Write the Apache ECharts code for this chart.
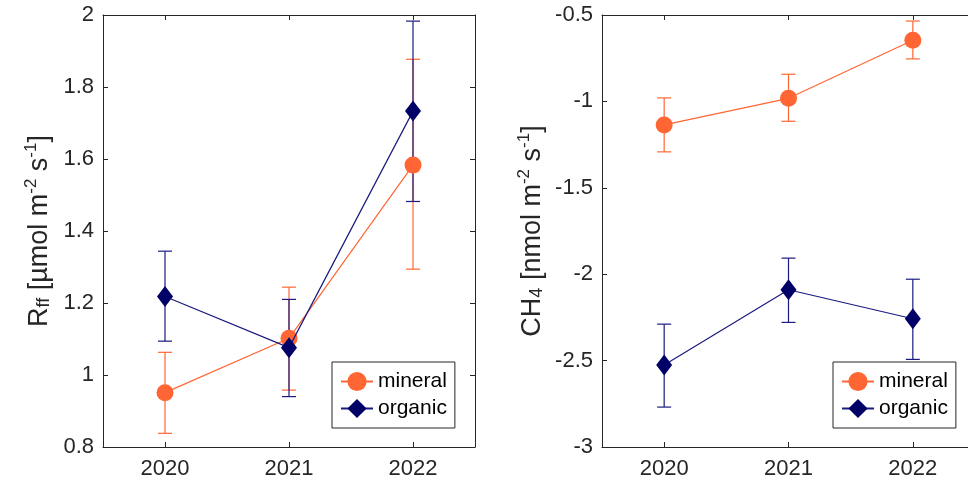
<!DOCTYPE html>
<html>
<head>
<meta charset="utf-8">
<script src="https://cdn.jsdelivr.net/npm/echarts@6/dist/echarts.min.js"></script>
<style>
html,body{margin:0;padding:0;background:#fff;}
#chart{width:968px;height:487px;}
</style>
</head>
<body>
<div id="chart"></div>
<script>
// ---- data ----
const years = ['2020', '2021', '2022'];
const seriesNames = ['mineral', 'organic'];

const rffMineral     = [0.951, 1.102, 1.583];
const rffMineralLow  = [0.838, 0.958, 1.294];
const rffMineralHigh = [1.063, 1.244, 1.877];

const rffOrganic     = [1.218, 1.076, 1.733];
const rffOrganicLow  = [1.094, 0.940, 1.482];
const rffOrganicHigh = [1.344, 1.210, 1.983];

const ch4Mineral     = [-1.136, -0.982, -0.646];
const ch4MineralLow  = [-1.292, -1.115, -0.754];
const ch4MineralHigh = [-0.980, -0.843, -0.535];

const ch4Organic     = [-2.526, -2.090, -2.258];
const ch4OrganicLow  = [-2.769, -2.279, -2.493];
const ch4OrganicHigh = [-2.289, -1.907, -2.029];

// ---- styles ----
const FONT = 'Liberation Sans, Arial, Helvetica, sans-serif';
const AX = '#262626';
const ORANGE = '#FF6633';
const NAVY = '#000066';
const NAVY_LINE = '#1A1A80';

function errData(lo, hi) {
  return lo.map((v, i) => [i, v, hi[i]]);
}
function errSeries(name, lo, hi, color, xi, yi) {
  return {
    type: 'custom', name: name, xAxisIndex: xi, yAxisIndex: yi,
    data: errData(lo, hi),
    encode: { x: 0, y: [1, 2] },
    z: 2,
    renderItem: function (params, api) {
      const x = api.value(0);
      const a = api.coord([x, api.value(1)]);
      const b = api.coord([x, api.value(2)]);
      const w = 7;
      const st = { stroke: color, lineWidth: 1.2 };
      return {
        type: 'group',
        children: [
          { type: 'line', shape: { x1: a[0], y1: a[1], x2: b[0], y2: b[1] }, style: st },
          { type: 'line', shape: { x1: a[0] - w, y1: a[1], x2: a[0] + w, y2: a[1] }, style: st },
          { type: 'line', shape: { x1: b[0] - w, y1: b[1], x2: b[0] + w, y2: b[1] }, style: st }
        ]
      };
    }
  };
}
function lineSeries(name, values, color, lineColor, symbol, size, xi, yi, z) {
  return {
    type: 'line', name: name, xAxisIndex: xi, yAxisIndex: yi,
    data: values, symbol: symbol, symbolSize: size, showSymbol: true,
    z: z,
    lineStyle: { color: lineColor, width: 1.2 },
    itemStyle: { color: color, borderWidth: 0 },
    emphasis: { disabled: true }
  };
}
function xAxes(gi, top) {
  return {
    type: 'category', gridIndex: gi, data: years, position: top ? 'top' : 'bottom',
    boundaryGap: true,
    axisLine: { show: true, lineStyle: { color: AX, width: 1 } },
    axisTick: { show: true, inside: true, alignWithLabel: true, length: 5, lineStyle: { color: AX } },
    axisLabel: { show: !top, color: AX, fontSize: 22, fontFamily: FONT, margin: 11 },
    splitLine: { show: false }
  };
}
function yAxes(gi, right, min, max, interval, nameRich, gap) {
  const ax = {
    type: 'value', gridIndex: gi, position: right ? 'right' : 'left',
    min: min, max: max, interval: interval,
    axisLine: { show: true, lineStyle: { color: AX, width: 1 } },
    axisTick: { show: true, inside: true, length: 5, lineStyle: { color: AX } },
    axisLabel: { show: !right, color: AX, fontSize: 22, fontFamily: FONT, margin: 9 },
    splitLine: { show: false }
  };
  if (!right) {
    ax.name = nameRich;
    ax.nameLocation = 'middle';
    ax.nameGap = gap;
    ax.nameRotate = 90;
    ax.nameTextStyle = {
      color: AX, fontSize: 27, fontFamily: FONT,
      rich: {
        sub: { fontSize: 18, fontFamily: FONT, color: AX, padding: [9, 0, 0, 0] },
        sup: { fontSize: 17, fontFamily: FONT, color: AX, padding: [0, 0, 16, 0] }
      }
    };
  }
  return ax;
}
function legend(left) {
  return {
    data: seriesNames, orient: 'vertical', left: left, top: 362,
    backgroundColor: '#fff', borderColor: AX, borderWidth: 1,
    padding: [9, 8, 9, 8], itemGap: 6, itemWidth: 32, itemHeight: 24,
    textStyle: { color: '#000', fontSize: 21, fontFamily: FONT },
    selectedMode: false
  };
}

const chart = echarts.init(document.getElementById('chart'), null, { renderer: 'canvas' });
chart.setOption({
  animation: false,
  backgroundColor: '#fff',
  grid: [
    { left: 103, top: 15, width: 372, height: 432, outerBoundsMode: 'none', containLabel: false },
    { left: 602, top: 15, width: 373, height: 432, outerBoundsMode: 'none', containLabel: false }
  ],
  xAxis: [xAxes(0, false), xAxes(0, true), xAxes(1, false), xAxes(1, true)],
  yAxis: [
    yAxes(0, false, 0.8, 2, 0.2, 'R{sub|ff} [µmol m{sup|-2} s{sup|-1}]', 47),
    yAxes(0, true, 0.8, 2, 0.2),
    yAxes(1, false, -3, -0.5, 0.5, 'CH{sub|4} [nmol m{sup|-2} s{sup|-1}]', 53),
    yAxes(1, true, -3, -0.5, 0.5)
  ],
  legend: [legend(332), legend(833)],
  series: [
    errSeries('mineral err', rffMineralLow, rffMineralHigh, ORANGE, 0, 0),
    lineSeries('mineral', rffMineral, ORANGE, ORANGE, 'circle', 17, 0, 0, 3),
    errSeries('organic err', rffOrganicLow, rffOrganicHigh, NAVY_LINE, 0, 0),
    lineSeries('organic', rffOrganic, NAVY, NAVY_LINE, 'diamond', [16, 21], 0, 0, 5),
    errSeries('mineral err', ch4MineralLow, ch4MineralHigh, ORANGE, 2, 2),
    lineSeries('mineral', ch4Mineral, ORANGE, ORANGE, 'circle', 17, 2, 2, 3),
    errSeries('organic err', ch4OrganicLow, ch4OrganicHigh, NAVY_LINE, 2, 2),
    lineSeries('organic', ch4Organic, NAVY, NAVY_LINE, 'diamond', [16, 21], 2, 2, 5)
  ]
});
</script>
</body>
</html>
